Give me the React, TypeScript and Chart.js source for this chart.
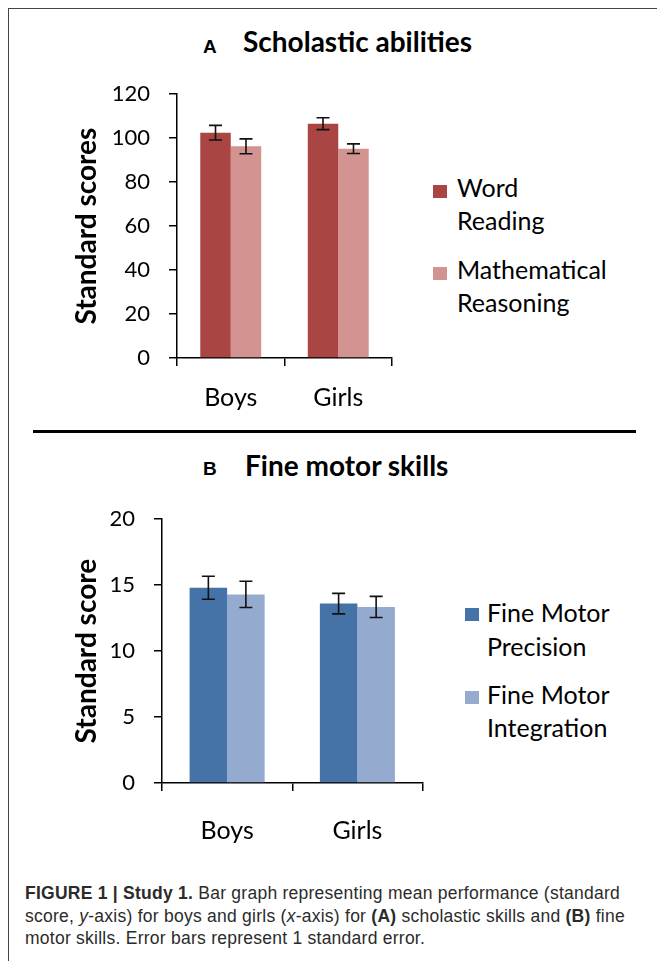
import React, { useEffect, useRef } from 'react';
import { Chart, registerables } from 'chart.js';

Chart.register(...registerables);

// ---------- data ----------
const categories = ['Boys', 'Girls'];

const seriesA = ['Word Reading', 'Mathematical Reasoning'];
const wordReading = [102.5, 106.6];
const wordReadingErr = [3.3, 2.7];
const mathReasoning = [96.3, 95.2];
const mathReasoningErr = [3.4, 2.2];
const colorsA = ['#A94542', '#D39391'];
const yMaxA = 120;
const yStepA = 20;

const seriesB = ['Fine Motor Precision', 'Fine Motor Integration'];
const precision = [14.8, 13.6];
const precisionErr = [0.87, 0.78];
const integration = [14.3, 13.35];
const integrationErr = [1.0, 0.8];
const colorsB = ['#4572A7', '#94AACF'];
const yMaxB = 20;
const yStepB = 5;

const legendLinesA = [['Word', 'Reading'], ['Mathematical', 'Reasoning']];
const legendLinesB = [['Fine Motor', 'Precision'], ['Fine Motor', 'Integration']];

// ---------- plugin ----------
const errorBarPlugin = {
  id: 'errorBars',
  afterDatasetsDraw(chart: any) {
    const { ctx } = chart;
    const y = chart.scales.y;
    chart.data.datasets.forEach((ds: any, i: number) => {
      const meta = chart.getDatasetMeta(i);
      meta.data.forEach((bar: any, j: number) => {
        const v = ds.data[j];
        const e = ds.errors[j];
        const yt = y.getPixelForValue(v + e);
        const yb = y.getPixelForValue(v - e);
        const cap = 6.5;
        ctx.save();
        ctx.strokeStyle = '#111';
        ctx.lineWidth = 1.6;
        ctx.beginPath();
        ctx.moveTo(bar.x, yt);
        ctx.lineTo(bar.x, yb);
        ctx.moveTo(bar.x - cap, yt);
        ctx.lineTo(bar.x + cap, yt);
        ctx.moveTo(bar.x - cap, yb);
        ctx.lineTo(bar.x + cap, yb);
        ctx.stroke();
        ctx.restore();
      });
    });
  },
};

type DS = { label: string; data: number[]; err: number[]; color: string };

function BarChart(props: {
  left: number; top: number; width: number; height: number;
  padTop: number; padRight: number; yWidth: number; xHeight: number;
  datasets: DS[]; yMax: number; yStep: number; yTitle: string;
  titlePad: number; xPad: number; catPct: number;
}) {
  const ref = useRef<HTMLCanvasElement>(null);
  useEffect(() => {
    const p = props;
    const chart = new Chart(ref.current!, {
      type: 'bar',
      data: {
        labels: categories,
        datasets: p.datasets.map((d) => ({
          label: d.label,
          data: d.data,
          errors: d.err,
          backgroundColor: d.color,
          borderWidth: 0,
          barPercentage: 1,
          categoryPercentage: p.catPct,
        })) as any,
      },
      options: {
        responsive: false,
        animation: false,
        devicePixelRatio: 1,
        layout: { padding: { top: p.padTop, right: p.padRight, left: 0, bottom: 0 } },
        plugins: { legend: { display: false }, tooltip: { enabled: false } },
        scales: {
          x: {
            grid: { display: true, drawOnChartArea: false, tickLength: 8, color: '#000', lineWidth: 1.5, offset: true },
            border: { color: '#000', width: 1.5 },
            ticks: { color: '#000', font: { family: 'Lato', size: 25 }, padding: p.xPad },
            afterFit: (s: any) => { s.height = p.xHeight; },
          },
          y: {
            min: 0,
            max: p.yMax,
            ticks: { stepSize: p.yStep, color: '#000', font: { family: 'Lato', size: 22 }, padding: 19 },
            grid: { display: true, drawOnChartArea: false, tickLength: 8, color: '#000', lineWidth: 1.5 },
            border: { color: '#000', width: 1.5 },
            title: {
              display: true,
              text: p.yTitle,
              color: '#000',
              font: { family: 'Lato', size: 28, weight: 'bold' },
              padding: { top: p.titlePad, bottom: 0 },
            },
            afterFit: (s: any) => { s.width = p.yWidth; },
          },
        },
      },
      plugins: [errorBarPlugin],
    });
    return () => chart.destroy();
  }, []);
  return (
    <canvas
      ref={ref}
      width={props.width}
      height={props.height}
      style={{ position: 'absolute', left: props.left, top: props.top, width: props.width, height: props.height }}
    />
  );
}

function T(props: { x: number; base: number; size: number; bold?: boolean; family?: string; color?: string; ls?: number; children: any }) {
  const family = props.family || 'Lato';
  const k = family === 'Lato' ? 0.887 : 0.8465;
  return (
    <div
      style={{
        position: 'absolute', left: props.x, top: props.base - k * props.size,
        fontFamily: family, fontSize: props.size, lineHeight: `${props.size}px`,
        fontWeight: props.bold ? 700 : 400, whiteSpace: 'nowrap', color: props.color || '#000',
        letterSpacing: props.ls ? `${props.ls}px` : undefined,
      }}
    >
      {props.children}
    </div>
  );
}

function Legend(props: { x: number; textX: number; sqTops: number[]; bases: number[][]; lines: string[][]; colors: string[] }) {
  return (
    <>
      {props.lines.map((ls, i) => (
        <React.Fragment key={i}>
          <div style={{ position: 'absolute', left: props.x, top: props.sqTops[i], width: 14, height: 13, background: props.colors[i] }} />
          {ls.map((l, k) => (
            <T key={k} x={props.textX} base={props.bases[i][k]} size={25}>{l}</T>
          ))}
        </React.Fragment>
      ))}
    </>
  );
}

export default function App() {
  const capFont = 'Liberation Sans';
  const capColor = '#2b2b2b';
  return (
    <div style={{ position: 'absolute', left: 0, top: 0, width: 657, height: 961, overflow: 'hidden', background: '#fff' }}>
      <div style={{ position: 'absolute', left: 8, top: 8, width: 700, height: 1000, border: '1px solid #444' }} />

      <T x={203} base={53} size={19} bold family={'Liberation Sans'}>A</T>
      <T x={243} base={52} size={28} bold>Scholastic abilities</T>

      <BarChart
        left={60} top={62} width={340} height={363}
        padTop={16} padRight={8} yWidth={117} xHeight={67}
        datasets={[
          { label: seriesA[0], data: wordReading, err: wordReadingErr, color: colorsA[0] },
          { label: seriesA[1], data: mathReasoning, err: mathReasoningErr, color: colorsA[1] },
        ]}
        yMax={yMaxA} yStep={yStepA} yTitle={'Standard scores'} titlePad={10.3} xPad={17} catPct={0.567}
      />
      <Legend x={433} textX={457} sqTops={[185, 267]} bases={[[197, 230], [279, 312]]} lines={legendLinesA} colors={colorsA} />

      <div style={{ position: 'absolute', left: 33, top: 429.5, width: 603, height: 3, background: '#000' }} />

      <T x={203} base={475} size={19} bold family={'Liberation Sans'}>B</T>
      <T x={245} base={476} size={28} bold>Fine motor skills</T>

      <BarChart
        left={60} top={487} width={370} height={368}
        padTop={16} padRight={7.5} yWidth={102} xHeight={72}
        datasets={[
          { label: seriesB[0], data: precision, err: precisionErr, color: colorsB[0] },
          { label: seriesB[1], data: integration, err: integrationErr, color: colorsB[1] },
        ]}
        yMax={yMaxB} yStep={yStepB} yTitle={'Standard score'} titlePad={10.3} xPad={25} catPct={0.576}
      />
      <Legend x={465} textX={487} sqTops={[608, 691]} bases={[[622, 656], [704, 737]]} lines={legendLinesB} colors={colorsB} />

      <T x={25} base={900} size={17.5} ls={0.25} family={capFont} color={capColor}>
        <b>FIGURE 1 | Study 1.</b> Bar graph representing mean performance (standard
      </T>
      <T x={25} base={922.5} size={17.5} ls={0.25} family={capFont} color={capColor}>
        score, <i>y</i>-axis) for boys and girls (<i>x</i>-axis) for <b>(A)</b> scholastic skills and <b>(B)</b> fine
      </T>
      <T x={25} base={945} size={17.5} ls={0.25} family={capFont} color={capColor}>
        motor skills. Error bars represent 1 standard error.
      </T>
    </div>
  );
}
